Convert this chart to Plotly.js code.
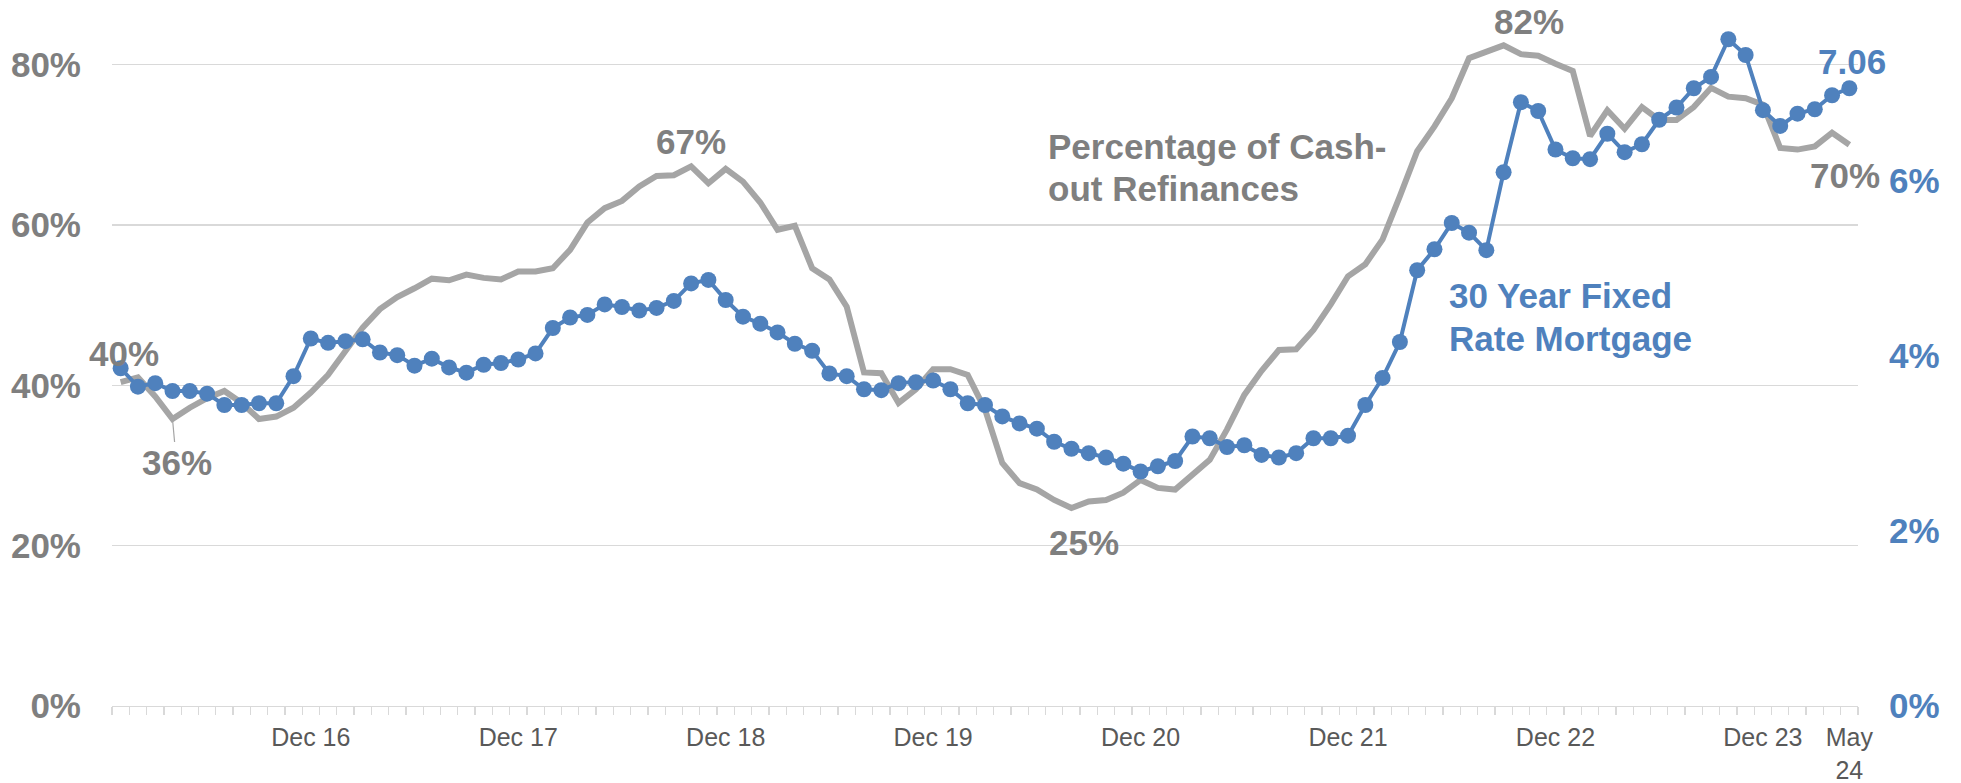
<!DOCTYPE html>
<html><head><meta charset="utf-8">
<script src="https://cdn.plot.ly/plotly-3.0.1.min.js"></script>
<style>html,body{margin:0;padding:0;background:#fff}#chart{width:1961px;height:783px}</style>
</head><body><div id="chart"></div>
<script>
const monthNames = ['Jan','Feb','Mar','Apr','May','Jun','Jul','Aug','Sep','Oct','Nov','Dec'];
const months = [];
for (let y = 2016; y <= 2024; y++) {
  for (let m = 0; m < 12; m++) {
    if (y === 2024 && m > 4) break;
    months.push(monthNames[m] + ' ' + String(y).slice(2));
  }
}

// Percentage of cash-out refinances (%), Jan 16 .. May 24
const cashOutShare = [
  40.4,41.0,38.6,35.8,37.2,38.4,39.3,37.8,35.8,36.1,37.2,39.1,
  41.3,44.2,47.2,49.5,51.0,52.1,53.3,53.1,53.8,53.4,53.2,54.2,
  54.2,54.6,56.9,60.3,62.1,63.0,64.8,66.1,66.2,67.3,65.2,67.0,
  65.4,62.8,59.4,59.9,54.6,53.2,49.8,41.6,41.5,37.8,39.5,42.0,
  42.0,41.3,37.0,30.3,27.8,27.0,25.7,24.7,25.5,25.7,26.6,28.2,
  27.2,27.0,28.9,30.7,34.5,38.8,41.8,44.4,44.5,46.9,50.1,53.6,
  55.1,58.2,63.6,69.2,72.3,75.8,80.8,81.6,82.4,81.3,81.1,80.1,
  79.2,71.1,74.3,72.0,74.7,73.1,73.1,74.7,77.1,76.0,75.8,75.0,
  69.6,69.4,69.8,71.5,70.0
];

// 30 year fixed rate mortgage (%), Jan 16 .. May 24
const mortgageRate = [
  3.86,3.65,3.69,3.60,3.60,3.57,3.44,3.44,3.46,3.46,3.77,4.20,
  4.15,4.17,4.19,4.04,4.01,3.89,3.97,3.87,3.81,3.90,3.92,3.96,
  4.03,4.32,4.44,4.47,4.59,4.56,4.52,4.55,4.63,4.83,4.87,4.64,
  4.45,4.37,4.27,4.14,4.06,3.80,3.77,3.62,3.61,3.69,3.70,3.72,
  3.62,3.46,3.44,3.31,3.23,3.17,3.02,2.94,2.89,2.84,2.77,2.68,
  2.74,2.80,3.08,3.06,2.96,2.98,2.87,2.84,2.89,3.06,3.06,3.09,
  3.44,3.75,4.16,4.98,5.22,5.52,5.41,5.21,6.10,6.90,6.80,6.36,
  6.26,6.25,6.54,6.33,6.42,6.70,6.84,7.06,7.19,7.62,7.44,6.81,
  6.63,6.77,6.82,6.98,7.06
];

const tickMonths = ['Dec 16','Dec 17','Dec 18','Dec 19','Dec 20','Dec 21','Dec 22','Dec 23','May 24'];
const tickLabels = ['Dec 16','Dec 17','Dec 18','Dec 19','Dec 20','Dec 21','Dec 22','Dec 23','May<br>24'];
const leftTicks = [0, 20, 40, 60, 80];
const leftTickText = ['0%', '20%', '40%', '60%', '80%'];
const rightTicks = [0, 2, 4, 6];
const rightTickText = ['0%', '2%', '4%', '6%'];
const labelledCashOut = ['Jan 16','Apr 16','Oct 18','Aug 20','Sep 22','May 24'];

const idx = months.map((_, i) => i);
const tickIdx = tickMonths.map(m => months.indexOf(m));

const GRAY = '#A5A5A5', GRAYTXT = '#7F7F7F', BLUE = '#4F81BD';
const FONT = 'Liberation Sans, Arial, sans-serif';

const traces = [
  { x: idx, y: cashOutShare, text: months, type: 'scatter', mode: 'lines', yaxis: 'y',
    line: { color: GRAY, width: 6 }, hovertemplate: '%{text}: %{y}%<extra></extra>' },
  { x: idx, y: mortgageRate, text: months, type: 'scatter', mode: 'lines+markers', yaxis: 'y2',
    line: { color: BLUE, width: 4 }, marker: { color: BLUE, size: 16 },
    hovertemplate: '%{text}: %{y}%<extra></extra>' }
];

const shifts = { 'Jan 16': [3.5, 28.5], 'Oct 18': [0, 25], 'Aug 20': [12.6, -34.6], 'Sep 22': [25.6, 24], 'May 24': [-4, -31] };
const annotations = [];
labelledCashOut.forEach(m => {
  const i = months.indexOf(m);
  const txt = Math.round(cashOutShare[i]) + '%';
  const base = { x: i, y: cashOutShare[i], xref: 'x', yref: 'y', text: txt,
    font: { family: FONT, size: 35, color: GRAYTXT, weight: 'bold' } };
  if (m === 'Apr 16') {
    annotations.push(Object.assign(base, { showarrow: true, arrowhead: 0, arrowwidth: 1.2,
      arrowcolor: GRAY, ax: 4, ay: 44, standoff: 0 }));
  } else {
    annotations.push(Object.assign(base, { showarrow: false, xshift: shifts[m][0], yshift: shifts[m][1] }));
  }
});
const last = months.length - 1;
annotations.push({ x: last, y: mortgageRate[last], xref: 'x', yref: 'y2', text: mortgageRate[last].toFixed(2),
  showarrow: false, xshift: 3, yshift: 26.5, font: { family: FONT, size: 35, color: BLUE, weight: 'bold' } });

const seriesLabels = [
  { text: 'Percentage of Cash-', x: 53.55, y: 69.78, color: GRAYTXT },
  { text: 'out Refinances', x: 53.55, y: 64.57, color: GRAYTXT },
  { text: '30 Year Fixed', x: 76.7, y: 51.18, color: BLUE },
  { text: 'Rate Mortgage', x: 76.7, y: 45.85, color: BLUE }
];
seriesLabels.forEach(s => annotations.push({ x: s.x, y: s.y, xref: 'x', yref: 'y', text: s.text,
  showarrow: false, xanchor: 'left', yanchor: 'middle',
  font: { family: FONT, size: 35, color: s.color, weight: 'bold' } }));

const layout = {
  width: 1961, height: 783,
  margin: { l: 112, r: 103, t: 6, b: 77, pad: 0 },
  paper_bgcolor: '#fff', plot_bgcolor: '#fff',
  showlegend: false,
  font: { family: FONT },
  xaxis: {
    range: [-0.5, months.length - 0.5], showgrid: false, zeroline: false,
    showline: true, linecolor: '#D9D9D9', linewidth: 1.3,
    tickmode: 'array', tickvals: tickIdx, ticktext: tickLabels, ticks: '',
    ticklabelstandoff: 9,
    tickfont: { family: FONT, size: 25, color: '#595959' },
    minor: { ticks: 'outside', ticklen: 8, tickwidth: 1.3, tickcolor: '#D9D9D9',
      tickmode: 'linear', tick0: -0.5, dtick: 1, showgrid: false }
  },
  yaxis: {
    range: [0, 87.31], tickmode: 'array', tickvals: leftTicks, ticktext: leftTickText,
    showgrid: true, gridcolor: '#D9D9D9', gridwidth: 1.3, zeroline: false, showline: false,
    ticks: '', ticklabelstandoff: 30,
    tickfont: { family: FONT, size: 35, color: GRAYTXT, weight: 'bold' }
  },
  yaxis2: {
    range: [0, 8], overlaying: 'y', side: 'right', tickmode: 'array', tickvals: rightTicks, ticktext: rightTickText,
    showgrid: false, zeroline: false, showline: false, ticks: '', ticklabelstandoff: 30,
    tickfont: { family: FONT, size: 35, color: BLUE, weight: 'bold' }
  },
  annotations: annotations
};

Plotly.newPlot('chart', traces, layout, { displayModeBar: false, staticPlot: true });
</script>
</body></html>
